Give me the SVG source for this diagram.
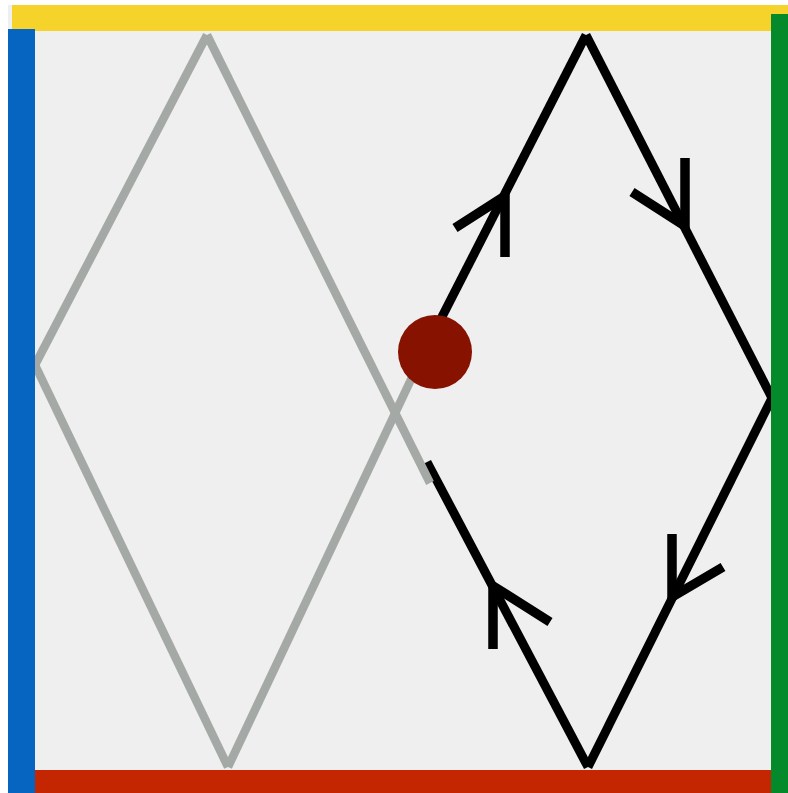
<svg xmlns="http://www.w3.org/2000/svg" width="788" height="793" viewBox="0 0 788 793">
<style>
.g{stroke:#a5a9a6;stroke-width:8.5;fill:none;stroke-linecap:butt}
.k{stroke:#000;stroke-width:9;fill:none;stroke-linecap:butt}
.ah{stroke:#000;stroke-width:9.5;fill:none;stroke-linecap:butt;stroke-linejoin:miter}
</style>
<rect x="0" y="0" width="788" height="793" fill="#ffffff"/>
<rect x="8" y="5" width="780" height="788" fill="#efefef"/>
<g id="connectors">
<line class="g" x1="207" y1="35" x2="35" y2="365"/>
<line class="g" x1="35" y1="365" x2="228" y2="767"/>
<line class="g" x1="228" y1="767" x2="424" y2="352"/>
<line class="k" x1="424" y1="352" x2="586" y2="35"/>
<line class="k" x1="586" y1="35" x2="772" y2="398"/>
<line class="k" x1="772" y1="398" x2="588" y2="767"/>
<line class="k" x1="588" y1="767" x2="427" y2="462"/>
<line class="g" x1="207" y1="35" x2="430" y2="483"/>
<polyline class="ah" points="455,228 505,196 505,257"/>
<polyline class="ah" points="632,192 685,226 685,158"/>
<polyline class="ah" points="723,567 672,597 672,534"/>
<polyline class="ah" points="550,622 493,586 493,649"/>
</g>
<g id="top-bar"><rect x="12" y="5" width="776" height="26" fill="#f6d32b"/></g>
<g id="bottom-bar"><rect x="35" y="770" width="740" height="23" fill="#c42602"/></g>
<g id="left-bar"><rect x="8" y="29" width="27" height="764" fill="#0565c1"/></g>
<g id="right-bar"><rect x="771" y="14" width="17" height="779" fill="#058a2b"/></g>
<g id="point"><circle cx="435" cy="352" r="37" fill="#871200"/></g>
</svg>
